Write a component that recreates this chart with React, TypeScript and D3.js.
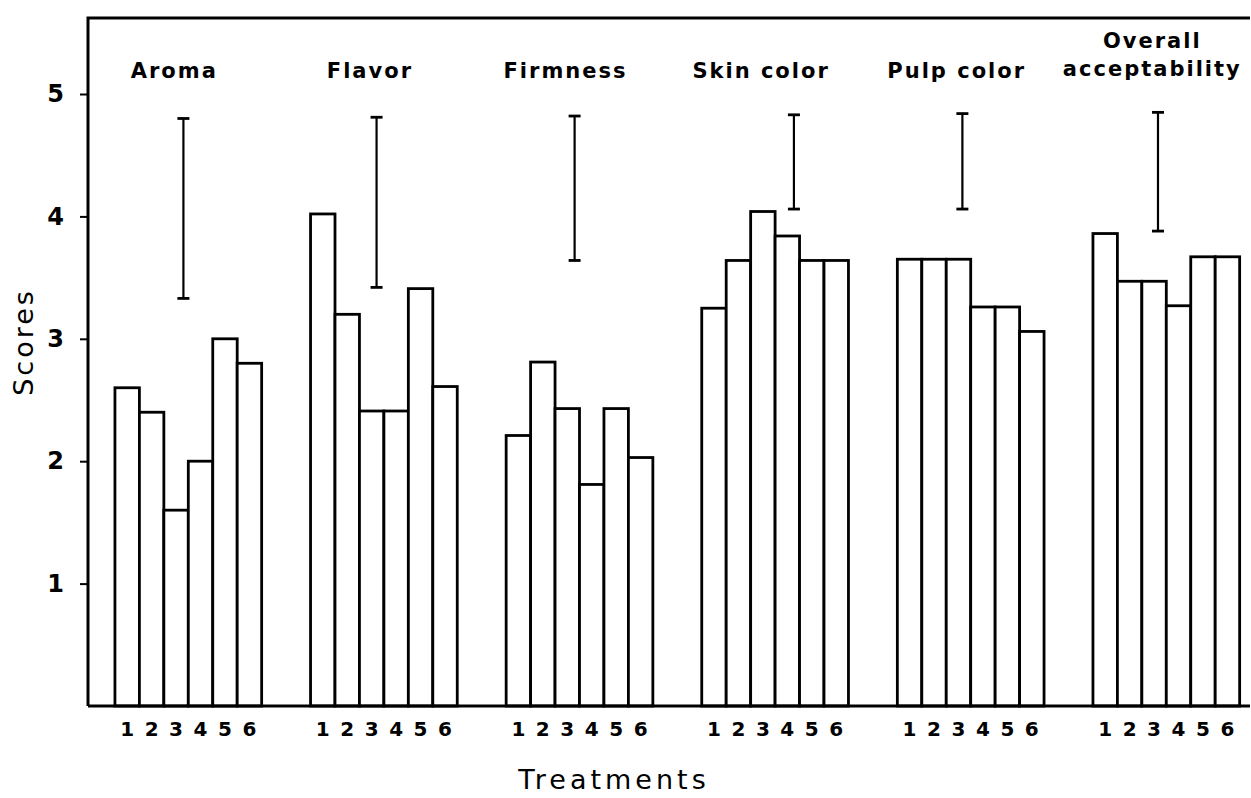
import React, { useEffect, useRef } from "react";
import * as d3 from "d3";

// sensory attributes (one group of bars each)
const attributes = ["Aroma", "Flavor", "Firmness", "Skin color", "Pulp color", "Overall acceptability"];
const treatments = ["1", "2", "3", "4", "5", "6"];

// mean scores per treatment 1..6
const aroma = [2.6, 2.4, 1.6, 2.0, 3.0, 2.8];
const flavor = [4.02, 3.2, 2.41, 2.41, 3.41, 2.61];
const firmness = [2.21, 2.81, 2.43, 1.81, 2.43, 2.03];
const skinColor = [3.25, 3.64, 4.04, 3.84, 3.64, 3.64];
const pulpColor = [3.65, 3.65, 3.65, 3.26, 3.26, 3.06];
const overall = [3.86, 3.47, 3.47, 3.27, 3.67, 3.67];
const scores = [aroma, flavor, firmness, skinColor, pulpColor, overall];

// LSD bars: low / high end, and where along the treatments they stand
const lsdLow = [3.33, 3.42, 3.64, 4.06, 4.06, 3.88];
const lsdHigh = [4.8, 4.81, 4.82, 4.83, 4.84, 4.85];
const lsdAt = [2.8, 2.7, 2.8, 3.77, 2.66, 2.66];

const yTicks = [1, 2, 3, 4, 5];

export default function App() {
  const ref = useRef<SVGSVGElement>(null);

  useEffect(() => {
    const svg = d3.select(ref.current);
    svg.selectAll("*").remove();

    const left = 88, top = 18, right = 1250, bottom = 706;
    const font = "'DejaVu Sans', sans-serif";

    // 8 slots per group: 6 bars and a 2-slot gap
    const x = d3.scaleLinear().domain([0, 47]).range([90.5, 90.5 + 47 * 24.45]);
    const y = d3.scaleLinear().domain([0, 5]).range([bottom, bottom - 5 * 122.4]);
    const slot = (g: number, i: number) => 1 + g * 8 + i;

    // bars
    const bars = svg.append("g");
    scores.forEach((vals, g) => {
      bars.selectAll(null)
        .data(vals)
        .enter()
        .append("rect")
        .attr("x", (d, i) => x(slot(g, i)))
        .attr("y", d => y(d))
        .attr("width", x(1) - x(0))
        .attr("height", d => y(0) - y(d))
        .attr("fill", "white")
        .attr("stroke", "black")
        .attr("stroke-width", 2.8);

      // treatment numbers under each bar
      svg.append("g")
        .selectAll("text")
        .data(treatments)
        .enter()
        .append("text")
        .attr("x", (d, i) => x(slot(g, i) + 0.5))
        .attr("y", bottom + 30)
        .attr("text-anchor", "middle")
        .style("font-family", font)
        .style("font-weight", "bold")
        .style("font-size", "20px")
        .text(d => d);

      // LSD bar
      const lx = x(slot(g, 0) + lsdAt[g]);
      const lsd = svg.append("g").attr("stroke", "black").attr("stroke-width", 2.2);
      lsd.append("line").attr("x1", lx).attr("x2", lx).attr("y1", y(lsdHigh[g])).attr("y2", y(lsdLow[g]));
      [lsdHigh[g], lsdLow[g]].forEach(v => {
        lsd.append("line").attr("x1", lx - 6).attr("x2", lx + 6).attr("y1", y(v)).attr("y2", y(v)).attr("stroke-width", 2.8);
      });

      // attribute title
      const cx = (x(slot(g, 0)) + x(slot(g, 6))) / 2 - 14;
      const words = attributes[g] === "Overall acceptability" ? ["Overall", "acceptability"] : [attributes[g]];
      const t = svg.append("text")
        .attr("text-anchor", "middle")
        .style("font-family", font)
        .style("font-weight", "bold")
        .style("font-size", "21px")
        .style("letter-spacing", "2px");
      words.forEach((w, k) => {
        t.append("tspan")
          .attr("x", cx)
          .attr("y", words.length > 1 ? 48 + k * 28 : 78)
          .text(w);
      });
    });

    // frame: left axis, top, bottom
    svg.append("path")
      .attr("d", `M${left},${bottom}V${top}H${right}`)
      .attr("fill", "none")
      .attr("stroke", "black")
      .attr("stroke-width", 3);
    svg.append("line")
      .attr("x1", left).attr("x2", right)
      .attr("y1", bottom).attr("y2", bottom)
      .attr("stroke", "black")
      .attr("stroke-width", 3);

    // Y axis ticks
    const yAxis = svg.append("g")
      .attr("transform", `translate(${left},0)`)
      .call(d3.axisLeft(y).tickValues(yTicks).tickSize(8).tickPadding(16).tickFormat(d3.format("d")));
    yAxis.select(".domain").remove();
    yAxis.selectAll("line").attr("stroke-width", 2);
    yAxis.selectAll("text")
      .style("font-family", font)
      .style("font-weight", "bold")
      .style("font-size", "24px");

    // axis titles
    svg.append("text")
      .attr("transform", `translate(33,${(top + bottom) / 2 - 20}) rotate(-90)`)
      .attr("text-anchor", "middle")
      .style("font-family", font)
      .style("font-size", "27px")
      .style("letter-spacing", "3px")
      .text("Scores");

    svg.append("text")
      .attr("x", 614)
      .attr("y", 789)
      .attr("text-anchor", "middle")
      .style("font-family", font)
      .style("font-size", "27px")
      .style("letter-spacing", "4px")
      .text("Treatments");
  }, []);

  return (
    <svg
      ref={ref}
      width={1251}
      height={798}
      style={{ position: "absolute", left: 0, top: 0, background: "white" }}
    />
  );
}
